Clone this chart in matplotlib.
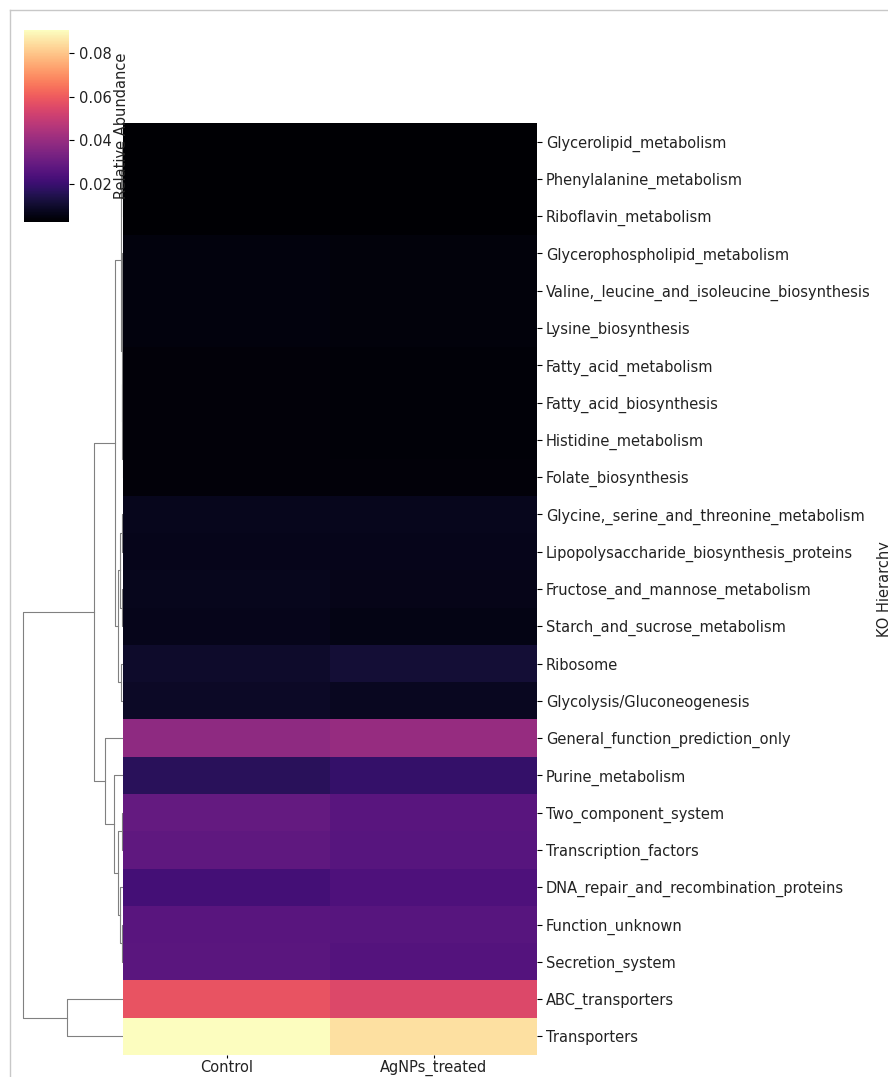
import numpy as np
import matplotlib
matplotlib.use('Agg')
import matplotlib.pyplot as plt
from matplotlib.lines import Line2D

# KO pathways in clustered (display) order
pathways = ['Glycerolipid_metabolism', 'Phenylalanine_metabolism', 'Riboflavin_metabolism',
            'Glycerophospholipid_metabolism', 'Valine,_leucine_and_isoleucine_biosynthesis',
            'Lysine_biosynthesis', 'Fatty_acid_metabolism', 'Fatty_acid_biosynthesis',
            'Histidine_metabolism', 'Folate_biosynthesis',
            'Glycine,_serine_and_threonine_metabolism', 'Lipopolysaccharide_biosynthesis_proteins',
            'Fructose_and_mannose_metabolism', 'Starch_and_sucrose_metabolism', 'Ribosome',
            'Glycolysis/Gluconeogenesis', 'General_function_prediction_only', 'Purine_metabolism',
            'Two_component_system', 'Transcription_factors', 'DNA_repair_and_recombination_proteins',
            'Function_unknown', 'Secretion_system', 'ABC_transporters', 'Transporters']
samples = ['Control', 'AgNPs_treated']

control = [0.0027, 0.0027, 0.0028, 0.0050, 0.0049, 0.0048, 0.0040, 0.0040, 0.0040, 0.0041,
           0.0072, 0.0070, 0.0074, 0.0068, 0.0095, 0.0088, 0.0380, 0.0165, 0.0290, 0.0280,
           0.0220, 0.0265, 0.0268, 0.0580, 0.0905]
agnps = [0.0026, 0.0027, 0.0027, 0.0046, 0.0046, 0.0045, 0.0039, 0.0039, 0.0039, 0.0040,
         0.0074, 0.0068, 0.0064, 0.0060, 0.0115, 0.0080, 0.0400, 0.0190, 0.0265, 0.0260,
         0.0240, 0.0260, 0.0255, 0.0550, 0.0850]

# row dendrogram: (left, right, height); ints are leaf rows
tree = (((((0, (1, 2, 0.004), 0.008),
           ((3, (4, 5, 0.005), 0.010), ((6, 7, 0.004), (8, 9, 0.004), 0.010), 0.015), 0.020),
          (((10, 11, 0.015), (12, 13, 0.015), 0.030), (14, 15, 0.020), 0.050), 0.081),
         (16, (17, ((18, 19, 0.012), (20, (21, 22, 0.012), 0.030), 0.050), 0.090), 0.180), 0.293),
        (23, 24, 0.556), 1.0)

W, H = 888, 1077
fig = plt.figure(figsize=(W / 100, H / 100), dpi=100)
fs = 10.5

def fx(px):
    return px / W

def fy(py):
    return 1 - py / H

hm_left, hm_right, hm_top, hm_bot = 123, 537, 123, 1055
ax = fig.add_axes([fx(hm_left), fy(hm_bot), fx(hm_right - hm_left), (hm_bot - hm_top) / H])
data = np.column_stack([control, agnps])
vmin, vmax = 0.0026, 0.0905
mesh = ax.pcolormesh(data, cmap='magma', vmin=vmin, vmax=vmax)
ax.set_xlim(0, 2)
ax.set_ylim(len(pathways), 0)
for s in ax.spines.values():
    s.set_visible(False)
ax.set_xticks(np.arange(2) + 0.5)
ax.set_xticklabels(samples, fontsize=fs, color='#222222')
ax.set_yticks(np.arange(len(pathways)) + 0.5)
ax.set_yticklabels(pathways, fontsize=fs, color='#222222')
ax.yaxis.tick_right()
ax.tick_params(axis='y', length=3.5, width=0.8, pad=3)
ax.tick_params(axis='x', length=2.5, width=0.8, pad=1)

fig.text(fx(877), fy((hm_top + hm_bot) / 2), 'KO Hierarchy', rotation=90,
         ha='left', va='center', fontsize=fs, color='#222222')

# dendrogram
dax = fig.add_axes([fx(18), fy(hm_bot), fx(hm_left - 18), (hm_bot - hm_top) / H])
root_h = tree[2]
dax.set_xlim(root_h * (hm_left - 18) / (hm_left - 23), 0)
dax.set_ylim(len(pathways), 0)
dax.axis('off')

def draw(node):
    if isinstance(node, int):
        return node + 0.5, 0.0
    yl, hl = draw(node[0])
    yr, hr = draw(node[1])
    h = node[2]
    dax.plot([hl, h, h, hr], [yl, yl, yr, yr], color='0.5', lw=0.8)
    return (yl + yr) / 2, h

draw(tree)

# colorbar
cax = fig.add_axes([fx(24), fy(222), fx(45), (222 - 30) / H])
cb = fig.colorbar(mesh, cax=cax)
cb.outline.set_linewidth(0)
cb.set_ticks([0.02, 0.04, 0.06, 0.08])
cb.ax.tick_params(labelsize=fs, length=3.5, width=0.8, labelcolor='#222222')
cb.set_label('Relative Abundance', fontsize=fs, labelpad=2, color='#222222')

# thin frame of the screenshot
fig.add_artist(Line2D([fx(9.5), 1], [fy(10), fy(10)], color='#c8c8c8', lw=1))
fig.add_artist(Line2D([fx(9.5), fx(9.5)], [0, fy(10)], color='#c8c8c8', lw=1))

fig.savefig('out.png', dpi=100)
